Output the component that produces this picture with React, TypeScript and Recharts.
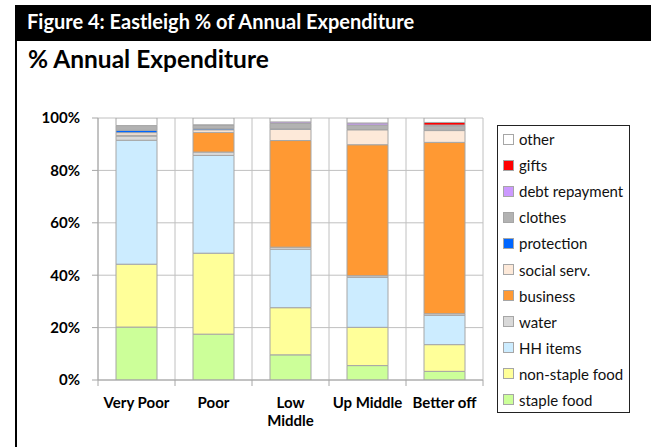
import { Bar, BarChart, CartesianGrid, Legend, XAxis, YAxis } from 'recharts';

// categories and % of annual expenditure per group
const categories = ['Very Poor', 'Poor', 'Low Middle', 'Up Middle', 'Better off'];
const stapleFood = [20.2, 17.5, 9.6, 5.5, 3.3];
const nonStapleFood = [24.0, 30.9, 18.0, 14.6, 10.2];
const hhItems = [47.3, 37.3, 22.3, 19.1, 11.2];
const water = [1.6, 1.3, 0.8, 0.6, 0.6];
const business = [0.3, 7.5, 40.7, 50.0, 65.4];
const socialServ = [1.0, 1.0, 4.3, 5.7, 4.5];
const protection = [0.9, 0.5, 0.2, 0.1, 0.1];
const clothes = [1.8, 1.3, 2.0, 1.7, 1.7];
const debtRepayment = [0, 0.1, 0.6, 0.8, 0.3];
const gifts = [0, 0, 0, 0, 1.0];
const other = [2.9, 2.6, 1.5, 1.9, 1.7];
const yTicks = [0, 20, 40, 60, 80, 100];

// stacking order bottom -> top
const series = [
  { key: 'staple', name: 'staple food', values: stapleFood, color: '#CCFF99' },
  { key: 'nonStaple', name: 'non-staple food', values: nonStapleFood, color: '#FFFF99' },
  { key: 'hh', name: 'HH items', values: hhItems, color: '#CCECFF' },
  { key: 'water', name: 'water', values: water, color: '#D9D9D9' },
  { key: 'business', name: 'business', values: business, color: '#FF9933' },
  { key: 'social', name: 'social serv.', values: socialServ, color: '#FDE9D9' },
  { key: 'protection', name: 'protection', values: protection, color: '#0066FF' },
  { key: 'clothes', name: 'clothes', values: clothes, color: '#B2B2B2' },
  { key: 'debt', name: 'debt repayment', values: debtRepayment, color: '#CC99FF' },
  { key: 'gifts', name: 'gifts', values: gifts, color: '#FF0000' },
  { key: 'other', name: 'other', values: other, color: '#FFFFFF' },
];

const data = categories.map((name, i) => {
  const row: Record<string, string | number> = { name };
  series.forEach((s) => {
    row[s.key] = s.values[i];
  });
  return row;
});

const FONT = 'Lato, "Open Sans", sans-serif';
const PLOT_LEFT = 98;
const PLOT_RIGHT = 483;
const HALF_BAND = (PLOT_RIGHT - PLOT_LEFT) / categories.length / 2;

function CategoryTick(props: any) {
  const { x, y, payload, index } = props;
  const words = String(payload.value) === 'Low Middle' ? ['Low', 'Middle'] : [String(payload.value)];
  return (
    <g>
      <line x1={x - HALF_BAND} x2={x - HALF_BAND} y1={y} y2={y + 6} stroke="#a6a6a6" />
      {index === categories.length - 1 && (
        <line x1={x + HALF_BAND} x2={x + HALF_BAND} y1={y} y2={y + 6} stroke="#a6a6a6" />
      )}
      <text x={x} y={y + 28} textAnchor="middle" fontSize={15} fontWeight="bold" fill="#000" fontFamily={FONT}>
        {words.map((w, i) => (
          <tspan key={w} x={x} dy={i === 0 ? 0 : 18}>
            {w}
          </tspan>
        ))}
      </text>
    </g>
  );
}

function LegendBox() {
  const items = [...series].reverse();
  return (
    <div
      style={{
        border: '1px solid #222',
        width: 133,
        height: 288,
        boxSizing: 'border-box',
        background: '#fff',
        fontFamily: FONT,
        fontSize: 15,
        color: '#111',
      }}
    >
      {items.map((s) => (
        <div key={s.key} style={{ height: 26.1, display: 'flex', alignItems: 'center', paddingLeft: 5 }}>
          <span
            style={{
              display: 'inline-block',
              width: 9,
              height: 9,
              background: s.color,
              border: '1px solid #a6a6a6',
              marginRight: 5,
            }}
          />
          <span>{s.name}</span>
        </div>
      ))}
    </div>
  );
}

export default function App() {
  return (
    <div style={{ position: 'relative', width: 651, height: 447, background: '#fff', overflow: 'hidden' }}>
      <style>{'body { margin: 0; }'}</style>
      <div style={{ position: 'absolute', left: 15, top: 5, width: 636, height: 36, background: '#000' }} />
      <div style={{ position: 'absolute', left: 15, top: 5, width: 2, height: 442, background: '#000' }} />
      <div
        style={{
          position: 'absolute',
          left: 27,
          top: 9,
          color: '#fff',
          fontFamily: FONT,
          fontWeight: 'bold',
          fontSize: 20,
          whiteSpace: 'nowrap',
        }}
      >
        Figure 4: Eastleigh % of Annual Expenditure
      </div>
      <div
        style={{
          position: 'absolute',
          left: 28,
          top: 44,
          color: '#000',
          fontFamily: FONT,
          fontWeight: 'bold',
          fontSize: 24.5,
          whiteSpace: 'nowrap',
        }}
      >
        % Annual Expenditure
      </div>
      <div style={{ position: 'absolute', left: 0, top: 0 }}>
        <BarChart
          width={651}
          height={447}
          data={data}
          margin={{ top: 118, right: 651 - PLOT_RIGHT, bottom: 37, left: PLOT_LEFT - 60 }}
          barSize={41}
        >
          <CartesianGrid
            stroke="#c0c0c0"
            verticalCoordinatesGenerator={({ offset }: any) =>
              categories.map((_, i) => offset.left + (i * offset.width) / categories.length).concat(offset.left + offset.width)
            }
          />
          <XAxis
            dataKey="name"
            height={30}
            tickSize={0}
            tickMargin={0}
            tick={<CategoryTick />}
            axisLine={{ stroke: '#a6a6a6' }}
            interval={0}
          />
          <YAxis
            width={60}
            domain={[0, 100]}
            ticks={yTicks}
            tickFormatter={(v: number) => `${v}%`}
            tickSize={6}
            tickMargin={12}
            axisLine={{ stroke: '#a6a6a6' }}
            tickLine={{ stroke: '#a6a6a6' }}
            tick={{ fontSize: 15, fontWeight: 'bold', fill: '#000', fontFamily: FONT }}
            allowDataOverflow
          />
          <Legend
            layout="vertical"
            align="center"
            verticalAlign="middle"
            content={<LegendBox />}
            wrapperStyle={{ position: 'absolute', left: 497, top: 125, width: 133, height: 288 }}
          />
          {series.map((s) => (
            <Bar
              key={s.key}
              dataKey={s.key}
              name={s.name}
              stackId="exp"
              fill={s.color}
              stroke="#a6a6a6"
              strokeWidth={1}
              isAnimationActive={false}
            />
          ))}
        </BarChart>
      </div>
    </div>
  );
}
